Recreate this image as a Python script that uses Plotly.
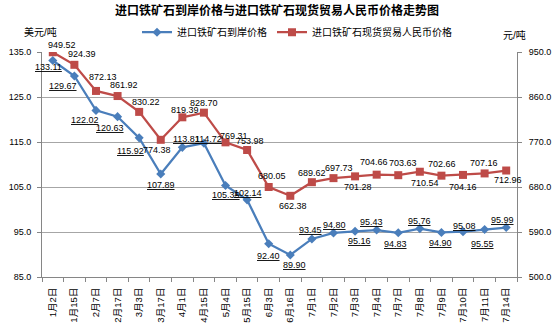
import plotly.graph_objects as go

categories = ["1月2日", "1月15日", "2月7日", "2月17日", "3月3日", "3月17日", "4月1日", "4月15日",
              "5月4日", "5月15日", "6月3日", "6月16日", "7月1日", "7月2日", "7月3日", "7月4日",
              "7月7日", "7月8日", "7月9日", "7月10日", "7月11日", "7月14日"]
usd_price = [133.11, 129.67, 122.02, 120.63, 115.92, 107.89, 113.81, 114.72, 105.35, 102.14,
             92.40, 89.90, 93.45, 94.80, 95.16, 95.43, 94.83, 95.76, 94.90, 95.08, 95.55, 95.99]
rmb_price = [949.52, 924.39, 872.13, 861.92, 830.22, 774.38, 819.39, 828.70, 769.31, 753.98,
             680.05, 662.38, 689.62, 697.73, 701.28, 704.66, 703.63, 710.54, 702.66, 704.16,
             707.16, 712.96]

# label offsets in pixels (dx, dy screen-down)
blue_off = [(-4, 6), (-11, 10), (-11, 10), (-8, 11), (-9, 13), (0, 11), (4, -8), (5, -4),
            (0, 10), (1, -7), (0, 12), (4, 10), (-1, -9), (1, -8), (4, 10), (-5, -8),
            (-3, 11), (0, -8), (-1, 11), (1, -6), (-2, 14), (-4, -8)]
red_off = [(9, -7), (8, -11), (7, -14), (6, -11), (7, -10), (-4, 10), (3, -7), (0, -10),
           (8, -6), (3, -9), (3, -11), (3, 10), (0, -9), (6, -10), (3, 11), (-3, -13),
           (5, -12), (5, 11), (1, -12), (0, 12), (-1, -10), (2, 9)]

BLUE = "#4A7EBB"
RED = "#BE4B48"
FONT = "Liberation Sans, Noto Sans CJK SC"

fig = go.Figure()
fig.add_trace(go.Scatter(x=categories, y=usd_price, name="进口铁矿石到岸价格", mode="lines+markers",
                         line=dict(color=BLUE, width=2.25),
                         marker=dict(symbol="diamond", size=7, color=BLUE), yaxis="y"))
fig.add_trace(go.Scatter(x=categories, y=rmb_price, name="进口铁矿石现货贸易人民币价格", mode="lines+markers",
                         line=dict(color=RED, width=2.25),
                         marker=dict(symbol="square", size=8, color=RED), yaxis="y2"))

ann = []
for i, (c, v) in enumerate(zip(categories, usd_price)):
    dx, dy = blue_off[i]
    ann.append(dict(x=c, y=v, xref="x", yref="y", text="<u>%.2f</u>" % v, showarrow=False,
                    xanchor="center", yanchor="middle",
                    xshift=dx, yshift=-dy, font=dict(size=9, color="#000000", family=FONT)))
for i, (c, v) in enumerate(zip(categories, rmb_price)):
    dx, dy = red_off[i]
    ann.append(dict(x=c, y=v, xref="x", yref="y2", text="%.2f" % v, showarrow=False,
                    xanchor="center", yanchor="middle",
                    xshift=dx, yshift=-dy, font=dict(size=9, color="#000000", family=FONT)))

ann.append(dict(x=-0.004, y=1.091, xref="paper", yref="paper", text="美元/吨", showarrow=False,
                xanchor="center", yanchor="middle",
                font=dict(size=10, color="#000000", family=FONT)))
ann.append(dict(x=0.994, y=1.076, xref="paper", yref="paper", text="元/吨", showarrow=False,
                xanchor="center", yanchor="middle",
                font=dict(size=10, color="#000000", family=FONT)))

fig.update_layout(
    width=554, height=328,
    margin=dict(l=42, r=37, t=52, b=51),
    paper_bgcolor="white", plot_bgcolor="white",
    font=dict(family=FONT, size=9, color="#000000"),
    title=dict(text="<b>进口铁矿石到岸价格与进口铁矿石现货贸易人民币价格走势图</b>",
               x=0.5, xanchor="center", y=0.967, yanchor="middle",
               font=dict(size=12, family="Noto Sans CJK SC", color="#000000")),
    showlegend=True,
    legend=dict(orientation="h", x=0.2, xanchor="left", y=1.088, yanchor="middle",
                font=dict(size=10, family=FONT), bgcolor="rgba(0,0,0,0)",
                itemwidth=30, tracegroupgap=0),
    annotations=ann,
    xaxis=dict(type="category", range=[-0.5, 21.5], tickangle=-90, showgrid=False,
               showline=True, linecolor="#868686", linewidth=1, automargin=False,
               ticks="outside", tickson="boundaries", ticklen=4, tickcolor="#868686",
               ticklabelstandoff=6,
               tickfont=dict(size=9.5, family=FONT)),
    yaxis=dict(range=[85, 135], dtick=10, tick0=85, tickformat=".1f", showgrid=True,
               gridcolor="#A6A6A6", gridwidth=1, showline=True, linecolor="#868686",
               ticks="outside", ticklen=4, tickcolor="#868686", zeroline=False,
               ticklabelstandoff=4, automargin=False,
               tickfont=dict(size=9, family=FONT)),
    yaxis2=dict(range=[500, 950], dtick=90, tick0=500, tickformat=".1f", overlaying="y",
                side="right", showgrid=False, showline=True, linecolor="#868686",
                ticks="outside", ticklen=4, tickcolor="#868686", zeroline=False,
                ticklabelstandoff=5, automargin=False,
                tickfont=dict(size=9, family=FONT)),
)

fig.write_html("out.html")
